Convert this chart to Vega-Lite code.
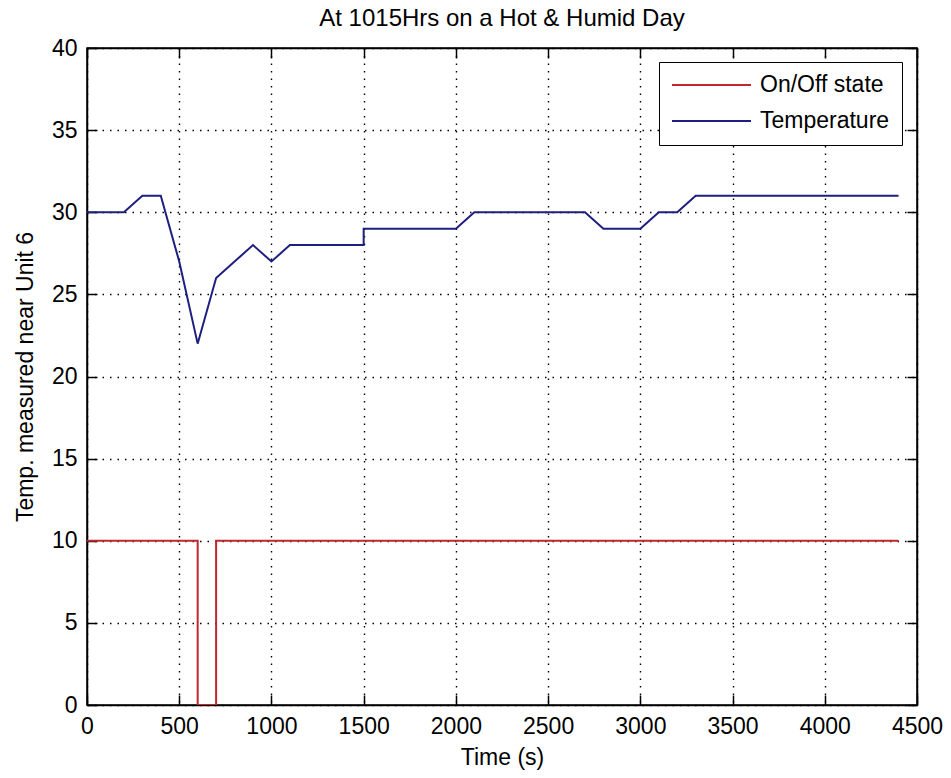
{
  "$schema": "https://vega.github.io/schema/vega-lite/v6.json",
  "width": 830,
  "height": 657,
  "autosize": {"type": "none"},
  "padding": {"left": 87, "top": 48, "right": 34, "bottom": 73},
  "background": "white",
  "title": {"text": "At 1015Hrs on a Hot & Humid Day", "fontSize": 24, "fontWeight": "normal", "font": "Liberation Sans", "color": "black", "offset": 6, "anchor": "middle"},
  "config": {
    "view": {"stroke": "black", "strokeWidth": 1.5},
    "font": "Liberation Sans"
  },
  "data": {
    "values": [
      {"series": "On/Off state", "t": 0, "v": 10, "i": 1},
      {"series": "On/Off state", "t": 600, "v": 10, "i": 2},
      {"series": "On/Off state", "t": 600, "v": 0, "i": 3},
      {"series": "On/Off state", "t": 700, "v": 0, "i": 4},
      {"series": "On/Off state", "t": 700, "v": 10, "i": 5},
      {"series": "On/Off state", "t": 4400, "v": 10, "i": 6},
      {"series": "Temperature", "t": 0, "v": 30, "i": 1},
      {"series": "Temperature", "t": 200, "v": 30, "i": 2},
      {"series": "Temperature", "t": 300, "v": 31, "i": 3},
      {"series": "Temperature", "t": 400, "v": 31, "i": 4},
      {"series": "Temperature", "t": 500, "v": 27, "i": 5},
      {"series": "Temperature", "t": 600, "v": 22, "i": 6},
      {"series": "Temperature", "t": 700, "v": 26, "i": 7},
      {"series": "Temperature", "t": 800, "v": 27, "i": 8},
      {"series": "Temperature", "t": 900, "v": 28, "i": 9},
      {"series": "Temperature", "t": 1000, "v": 27, "i": 10},
      {"series": "Temperature", "t": 1100, "v": 28, "i": 11},
      {"series": "Temperature", "t": 1500, "v": 28, "i": 12},
      {"series": "Temperature", "t": 1500, "v": 29, "i": 13},
      {"series": "Temperature", "t": 2000, "v": 29, "i": 14},
      {"series": "Temperature", "t": 2100, "v": 30, "i": 15},
      {"series": "Temperature", "t": 2700, "v": 30, "i": 16},
      {"series": "Temperature", "t": 2800, "v": 29, "i": 17},
      {"series": "Temperature", "t": 3000, "v": 29, "i": 18},
      {"series": "Temperature", "t": 3100, "v": 30, "i": 19},
      {"series": "Temperature", "t": 3200, "v": 30, "i": 20},
      {"series": "Temperature", "t": 3300, "v": 31, "i": 21},
      {"series": "Temperature", "t": 4400, "v": 31, "i": 22}
    ]
  },
  "layer": [
    {
      "mark": {"type": "line", "strokeWidth": 2, "clip": true},
      "encoding": {
        "x": {
          "field": "t", "type": "quantitative",
          "scale": {"domain": [0, 4500], "nice": false, "zero": false},
          "axis": {
            "orient": "bottom",
            "values": [0, 500, 1000, 1500, 2000, 2500, 3000, 3500, 4000, 4500],
            "format": "d",
            "title": "Time (s)",
            "grid": true, "gridColor": "black", "gridDash": [1.5, 6], "gridWidth": 1.4, "gridOpacity": 1,
            "domainColor": "black", "domainWidth": 1.5,
            "tickColor": "black", "tickSize": -10, "tickWidth": 1.5,
            "labelFontSize": 23, "labelColor": "black", "labelPadding": 20, "labelFlush": false, "labelOverlap": false,
            "titleFontSize": 23, "titleFontWeight": "normal", "titleColor": "black", "titlePadding": 8
          }
        },
        "y": {
          "field": "v", "type": "quantitative",
          "scale": {"domain": [0, 40], "nice": false},
          "axis": {
            "orient": "left",
            "values": [0, 5, 10, 15, 20, 25, 30, 35, 40],
            "format": "d",
            "title": "Temp. measured near Unit 6",
            "grid": true, "gridColor": "black", "gridDash": [1.5, 6], "gridWidth": 1.4, "gridOpacity": 1,
            "domainColor": "black", "domainWidth": 1.5,
            "tickColor": "black", "tickSize": -10, "tickWidth": 1.5,
            "labelFontSize": 23, "labelColor": "black", "labelPadding": 20, "labelFlush": false, "labelOverlap": false,
            "titleFontSize": 23, "titleFontWeight": "normal", "titleColor": "black", "titlePadding": 14
          }
        },
        "color": {
          "field": "series", "type": "nominal",
          "scale": {"domain": ["On/Off state", "Temperature"], "range": ["#c0282e", "#1f1f80"]},
          "legend": {
            "title": null,
            "orient": "none", "legendX": 572, "legendY": 14,
            "direction": "vertical",
            "fillColor": "white", "strokeColor": "black", "cornerRadius": 0,
            "padding": 12, "rowPadding": 13, "clipHeight": 22,
            "symbolType": "stroke", "symbolSize": 6241, "symbolStrokeWidth": 2,
            "labelFontSize": 23, "labelColor": "black", "labelOffset": 8, "labelLimit": 400
          }
        },
        "order": {"field": "i", "type": "quantitative"}
      }
    },
    {
      "mark": {"type": "point", "opacity": 0},
      "encoding": {
        "x": {
          "field": "t", "type": "quantitative",
          "axis": {
            "orient": "top", "values": [0, 500, 1000, 1500, 2000, 2500, 3000, 3500, 4000, 4500],
            "labels": false, "title": null, "grid": false,
            "domainColor": "black", "domainWidth": 1.5,
            "tickColor": "black", "tickSize": -10, "tickWidth": 1.5
          }
        },
        "y": {
          "field": "v", "type": "quantitative",
          "axis": {
            "orient": "right", "values": [0, 5, 10, 15, 20, 25, 30, 35, 40],
            "labels": false, "title": null, "grid": false,
            "domainColor": "black", "domainWidth": 1.5,
            "tickColor": "black", "tickSize": -10, "tickWidth": 1.5
          }
        }
      }
    }
  ],
  "resolve": {"axis": {"x": "independent", "y": "independent"}}
}
